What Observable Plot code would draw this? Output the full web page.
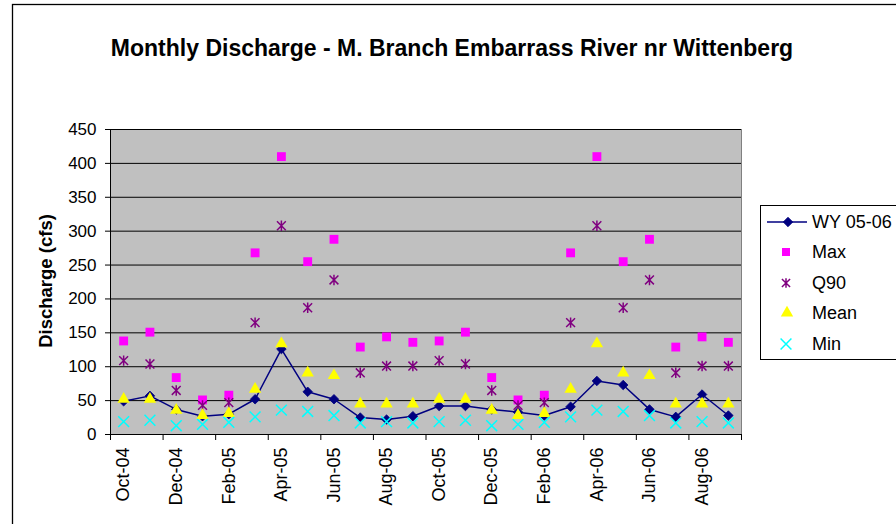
<!DOCTYPE html>
<html>
<head>
<meta charset="utf-8">
<script src="https://cdn.jsdelivr.net/npm/d3@7"></script>
<script src="https://cdn.jsdelivr.net/npm/@observablehq/plot@0.6"></script>
<style>
  html, body { margin: 0; padding: 0; background: #fff; }
  #chart { width: 896px; height: 524px; overflow: hidden; }
</style>
</head>
<body>
<div id="chart"></div>
<script>
const months = ["Oct-04","Nov-04","Dec-04","Jan-05","Feb-05","Mar-05","Apr-05","May-05","Jun-05","Jul-05","Aug-05","Sep-05",
                "Oct-05","Nov-05","Dec-05","Jan-06","Feb-06","Mar-06","Apr-06","May-06","Jun-06","Jul-06","Aug-06","Sep-06"];
const wy   = [49, 57, 37, 27, 30, 52, 126, 63, 52, 25, 22, 27,  42, 42, 37, 33, 28, 41, 79, 73, 37, 26, 59, 28];
const maxQ = [138,151,84,51,58,268,410,255,288,129,144,136, 138,151,84,51,58,268,410,255,288,129,144,136];
const q90  = [109,104,65,43,47,165,308,187,228,91,101,101, 109,104,65,43,47,165,308,187,228,91,101,101];
const mean = [52,52,36,28,31,67,134,91,87,45,45,45, 52,52,36,28,31,67,134,91,87,45,45,45];
const minQ = [19,21,13,15,18,26,36,34,28,17,19,17, 19,21,13,15,18,26,36,34,28,17,19,17];
const tickLabels = ["Oct-04","Dec-04","Feb-05","Apr-05","Jun-05","Aug-05","Oct-05","Dec-05","Feb-06","Apr-06","Jun-06","Aug-06"];
const yTicks = [0,50,100,150,200,250,300,350,400,450];
const seriesNames = ["WY 05-06","Max","Q90","Mean","Min"];
const titleText = "Monthly Discharge - M. Branch Embarrass River nr Wittenberg";
const yTitle = "Discharge (cfs)";

const rows = months.map((m, i) => ({i, month: m, wy: wy[i], max: maxQ[i], q90: q90[i], mean: mean[i], min: minQ[i]}));
const labelIdx = tickLabels.map(l => months.indexOf(l));
const boundaries = d3.range(0, months.length + 1, 2).map(i => i - 0.5);

const FONT = "'Liberation Sans', Arial, sans-serif";

// Excel-style star: X plus vertical bar
const star = {
  draw(ctx, size) {
    const r = Math.sqrt(size / Math.PI);
    const d = r * 0.85;
    ctx.moveTo(0, -r); ctx.lineTo(0, r);
    ctx.moveTo(-d, -d); ctx.lineTo(d, d);
    ctx.moveTo(-d, d); ctx.lineTo(d, -d);
  }
};

const R = {wy: 4.3, max: 5, q90: 5.2, mean: 4.6, min: 5};

const chart = Plot.plot({
  width: 896,
  height: 524,
  marginLeft: 110,
  marginRight: 155,
  marginTop: 129,
  marginBottom: 90,
  style: {fontFamily: FONT, fontSize: "17px", color: "black", background: "transparent"},
  x: {type: "linear", domain: [-0.5, months.length - 0.5]},
  y: {domain: [0, 450]},
  marks: [
    Plot.frame({fill: "#c0c0c0", stroke: "#808080"}),
    Plot.gridY(yTicks, {stroke: "black", strokeOpacity: 1, strokeWidth: 1}),
    Plot.axisY(yTicks, {tickSize: 5, tickPadding: 9, fontSize: 17, label: null, tickFormat: d => String(d)}),
    Plot.axisX(boundaries, {tickSize: 6, tickFormat: () => "", label: null}),
    Plot.axisX(labelIdx, {tickSize: 0, tickPadding: 13, tickRotate: -90, fontSize: 18, label: null, tickFormat: i => months[i]}),
    Plot.ruleX([-0.5], {stroke: "black"}),
    Plot.ruleY([0], {stroke: "black"}),
    Plot.line(rows, {x: "i", y: "wy", stroke: "#000080", strokeWidth: 1.5}),
    Plot.dot(rows, {x: "i", y: "wy", symbol: "diamond2", r: R.wy, fill: "#000080", stroke: "#000080", strokeWidth: 0.8}),
    Plot.dot(rows, {x: "i", y: "max", symbol: "square", r: R.max, fill: "#ff00ff", stroke: "none"}),
    Plot.dot(rows, {x: "i", y: "q90", symbol: star, r: R.q90, fill: "none", stroke: "#800080", strokeWidth: 1.5}),
    Plot.dot(rows, {x: "i", y: "mean", symbol: "triangle", r: R.mean, fill: "#ffff00", stroke: "none"}),
    Plot.dot(rows, {x: "i", y: "min", symbol: "times", r: R.min, fill: "none", stroke: "#00ffff", strokeWidth: 1.5})
  ]
});

const svg = d3.select(chart);
// outer chart border
svg.insert("rect", ":first-child")
  .attr("x", 12.5).attr("y", 4.5).attr("width", 900).attr("height", 540)
  .attr("fill", "white").attr("stroke", "black").attr("stroke-width", 1.3);

// title
svg.append("text")
  .attr("x", 452).attr("y", 56)
  .attr("text-anchor", "middle")
  .style("font-family", FONT).style("font-weight", "bold").style("font-size", "23px")
  .attr("fill", "black")
  .text(titleText);

// y axis title
svg.append("text")
  .attr("transform", "translate(52,281) rotate(-90)")
  .attr("text-anchor", "middle")
  .style("font-family", FONT).style("font-weight", "bold").style("font-size", "18.5px")
  .attr("fill", "black")
  .text(yTitle);

// legend
const lg = svg.append("g");
lg.append("rect").attr("x", 760.5).attr("y", 205.5).attr("width", 150).attr("height", 154)
  .attr("fill", "white").attr("stroke", "black").attr("stroke-width", 1);
const legendY = [222, 252, 283, 313, 344];
const symX = 786;
const sym = (type, r) => d3.symbol().type(type).size(Math.PI * r * r)();
// WY line
lg.append("line").attr("x1", 767).attr("x2", 807).attr("y1", legendY[0]).attr("y2", legendY[0])
  .attr("stroke", "#000080").attr("stroke-width", 1.5);
lg.append("path").attr("d", sym(d3.symbolDiamond2, R.wy)).attr("transform", `translate(788,${legendY[0]})`)
  .attr("fill", "#000080").attr("stroke", "#000080").attr("stroke-width", 0.8);
lg.append("path").attr("d", sym(d3.symbolSquare, R.max - 0.5)).attr("transform", `translate(${symX},${legendY[1]})`)
  .attr("fill", "#ff00ff");
lg.append("path").attr("d", sym(star, R.q90 - 0.4)).attr("transform", `translate(${symX},${legendY[2]})`)
  .attr("fill", "none").attr("stroke", "#800080").attr("stroke-width", 1.5);
lg.append("path").attr("d", sym(d3.symbolTriangle, R.mean)).attr("transform", `translate(${symX + 1},${legendY[3]})`)
  .attr("fill", "#ffff00");
lg.append("path").attr("d", sym(d3.symbolTimes, R.min)).attr("transform", `translate(${symX},${legendY[4]})`)
  .attr("fill", "none").attr("stroke", "#00ffff").attr("stroke-width", 1.5);
seriesNames.forEach((n, k) => {
  lg.append("text").attr("x", 812).attr("y", legendY[k]).attr("dy", "0.35em")
    .attr("text-anchor", "start")
    .style("font-family", FONT).style("font-size", "18px").attr("fill", "black").text(n);
});

document.getElementById("chart").appendChild(chart);
</script>
</body>
</html>
